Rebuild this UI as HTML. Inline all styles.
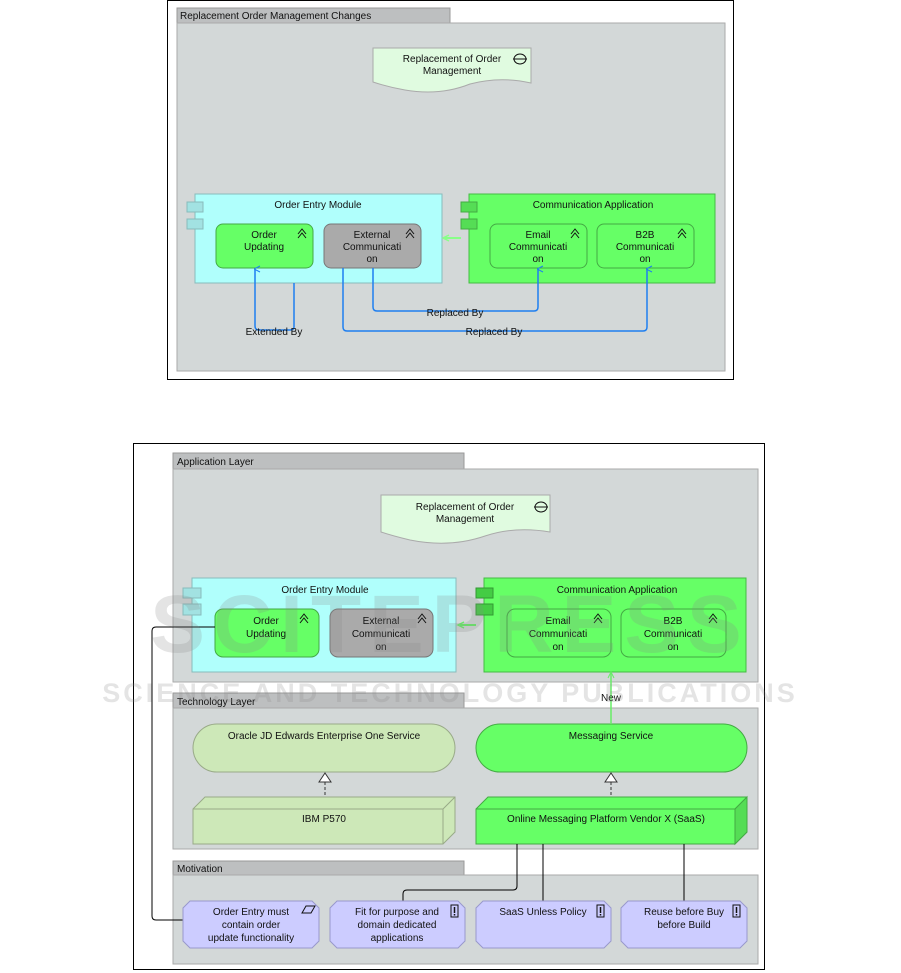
<!DOCTYPE html>
<html><head><meta charset="utf-8"><style>
body{margin:0;background:#fff;}
svg{display:block;font-family:"Liberation Sans","DejaVu Sans",sans-serif;}
text{font-size:10px;fill:#111;}
</style></head><body>
<svg width="901" height="973" viewBox="0 0 901 973" xmlns="http://www.w3.org/2000/svg">
<defs>
<marker id="ab" markerWidth="8" markerHeight="8" refX="4" refY="1" orient="auto" markerUnits="userSpaceOnUse"><path d="M1,6 L4,0 L7,6" fill="none" stroke="#1e7ff0" stroke-width="1"/></marker>
<g id="fn"><path d="M0,8 L4,3 L8,8 M0,12 L4,7 L8,12" fill="none" stroke="#111" stroke-width="1"/></g>
<g id="pr"><rect x="0" y="0" width="7" height="12" fill="none" stroke="#111"/><line x1="3.5" y1="2" x2="3.5" y2="8" stroke="#111" stroke-width="1.5"/><line x1="3.5" y1="9" x2="3.5" y2="10.5" stroke="#111" stroke-width="1.5"/></g>
</defs>

<!-- TOP DIAGRAM -->
<rect x="167.5" y="0.5" width="566" height="379" fill="#fff" stroke="#000"/>
<rect x="177" y="8" width="273" height="15" fill="#bdbfc0" stroke="#999"/>
<text x="180" y="19">Replacement Order Management Changes</text>
<rect x="177" y="23" width="548" height="348" fill="#d3d8d8" stroke="#aaa"/>
<path d="M373,48 H531 V83 Q500,76 470,84 Q440,96 405,90 Q388,87 373,82 Z" fill="#e0fbe0" stroke="#aaa"/>
<text x="452" y="62" text-anchor="middle">Replacement of Order</text>
<text x="452" y="74" text-anchor="middle">Management</text>
<ellipse cx="520" cy="59" rx="6" ry="5" fill="none" stroke="#111"/><line x1="513" y1="59" x2="527" y2="59" stroke="#111"/>

<rect x="195" y="194" width="247" height="89" fill="#b0fffc" stroke="#88bbbb"/>
<rect x="187" y="202" width="16" height="10" fill="#a2e2e2" stroke="#88bbbb"/>
<rect x="187" y="219" width="16" height="10" fill="#a2e2e2" stroke="#88bbbb"/>
<text x="318" y="208" text-anchor="middle">Order Entry Module</text>
<rect x="469" y="194" width="246" height="89" fill="#66ff66" stroke="#44bb44"/>
<rect x="461" y="202" width="16" height="10" fill="#55dd55" stroke="#44aa44"/>
<rect x="461" y="219" width="16" height="10" fill="#55dd55" stroke="#44aa44"/>
<text x="593" y="208" text-anchor="middle">Communication Application</text>
<line x1="461" y1="238" x2="445" y2="238" stroke="#88ff88" stroke-width="2"/>
<path d="M449,235 L443,238 L449,241" fill="none" stroke="#88ff88" stroke-width="1.5"/>

<rect x="216" y="224" width="97" height="44" rx="7" fill="#66ff66" stroke="#44aa44"/>
<text x="264" y="238" text-anchor="middle">Order</text><text x="264" y="250" text-anchor="middle">Updating</text>
<use href="#fn" x="298" y="226"/>
<rect x="324" y="224" width="97" height="44" rx="7" fill="#aaaaaa" stroke="#777"/>
<text x="372" y="238" text-anchor="middle">External</text><text x="372" y="250" text-anchor="middle">Communicati</text><text x="372" y="262" text-anchor="middle">on</text>
<use href="#fn" x="406" y="226"/>
<rect x="490" y="224" width="97" height="44" rx="7" fill="#66ff66" stroke="#44aa44"/>
<text x="538" y="238" text-anchor="middle">Email</text><text x="538" y="250" text-anchor="middle">Communicati</text><text x="538" y="262" text-anchor="middle">on</text>
<use href="#fn" x="571" y="226"/>
<rect x="597" y="224" width="97" height="44" rx="7" fill="#66ff66" stroke="#44aa44"/>
<text x="645" y="238" text-anchor="middle">B2B</text><text x="645" y="250" text-anchor="middle">Communicati</text><text x="645" y="262" text-anchor="middle">on</text>
<use href="#fn" x="678" y="226"/>

<g fill="none" stroke="#1e7ff0" stroke-width="1.5">
<path d="M294,283 V327 Q294,330 290,330 H259 Q255,330 255,326 V269" marker-end="url(#ab)"/>
<path d="M373,268 V307 Q373,311 377,311 H534 Q538,311 538,307 V269" marker-end="url(#ab)"/>
<path d="M343,268 V327 Q343,331 347,331 H643 Q647,331 647,327 V269" marker-end="url(#ab)"/>
</g>
<text x="274" y="335" text-anchor="middle">Extended By</text>
<text x="455" y="316" text-anchor="middle">Replaced By</text>
<text x="494" y="335" text-anchor="middle">Replaced By</text>

<!-- BOTTOM DIAGRAM -->
<rect x="133.5" y="443.5" width="631" height="526" fill="#fff" stroke="#000"/>
<rect x="173" y="453" width="291" height="16" fill="#bdbfc0" stroke="#999"/>
<text x="177" y="465">Application Layer</text>
<rect x="173" y="469" width="585" height="213" fill="#d3d8d8" stroke="#aaa"/>
<path d="M381,495 H550 V532 Q515,526 485,536 Q450,548 410,540 Q393,536 381,532 Z" fill="#e0fbe0" stroke="#aaa"/>
<text x="465" y="510" text-anchor="middle">Replacement of Order</text>
<text x="465" y="522" text-anchor="middle">Management</text>
<ellipse cx="541" cy="507" rx="6" ry="5" fill="none" stroke="#111"/><line x1="534" y1="507" x2="548" y2="507" stroke="#111"/>

<rect x="192" y="578" width="264" height="94" fill="#b0fffc" stroke="#88bbbb"/>
<rect x="183" y="588" width="18" height="10" fill="#a2e2e2" stroke="#88bbbb"/>
<rect x="183" y="604" width="18" height="11" fill="#a2e2e2" stroke="#88bbbb"/>
<text x="325" y="593" text-anchor="middle">Order Entry Module</text>
<rect x="484" y="578" width="262" height="94" fill="#66ff66" stroke="#44bb44"/>
<rect x="476" y="588" width="17" height="10" fill="#44cc44" stroke="#339933"/>
<rect x="476" y="604" width="17" height="11" fill="#44cc44" stroke="#339933"/>
<text x="617" y="593" text-anchor="middle">Communication Application</text>
<line x1="476" y1="625" x2="460" y2="625" stroke="#66ee66" stroke-width="2"/>
<path d="M464,622 L458,625 L464,628" fill="none" stroke="#66ee66" stroke-width="1.5"/>

<rect x="215" y="609" width="104" height="48" rx="8" fill="#66ff66" stroke="#44aa44"/>
<text x="266" y="624" text-anchor="middle">Order</text><text x="266" y="637" text-anchor="middle">Updating</text>
<use href="#fn" x="300" y="611"/>
<rect x="330" y="609" width="103" height="48" rx="8" fill="#aaaaaa" stroke="#777"/>
<text x="381" y="624" text-anchor="middle">External</text><text x="381" y="637" text-anchor="middle">Communicati</text><text x="381" y="650" text-anchor="middle">on</text>
<use href="#fn" x="418" y="611"/>
<rect x="507" y="609" width="104" height="48" rx="8" fill="#66ff66" stroke="#44aa44"/>
<text x="558" y="624" text-anchor="middle">Email</text><text x="558" y="637" text-anchor="middle">Communicati</text><text x="558" y="650" text-anchor="middle">on</text>
<use href="#fn" x="594" y="611"/>
<rect x="621" y="609" width="105" height="48" rx="8" fill="#66ff66" stroke="#44aa44"/>
<text x="673" y="624" text-anchor="middle">B2B</text><text x="673" y="637" text-anchor="middle">Communicati</text><text x="673" y="650" text-anchor="middle">on</text>
<use href="#fn" x="709" y="611"/>

<rect x="173" y="693" width="291" height="15" fill="#bdbfc0" stroke="#999"/>
<text x="177" y="705">Technology Layer</text>
<rect x="173" y="708" width="585" height="141" fill="#d3d8d8" stroke="#aaa"/>
<rect x="193" y="724" width="262" height="48" rx="24" fill="#cde8b8" stroke="#99aa88"/>
<text x="324" y="739" text-anchor="middle">Oracle JD Edwards Enterprise One Service</text>
<rect x="476" y="724" width="271" height="48" rx="24" fill="#66ff66" stroke="#44aa44"/>
<text x="611" y="739" text-anchor="middle">Messaging Service</text>

<line x1="611" y1="672" x2="611" y2="724" stroke="#66ee66" stroke-width="1.5"/>
<path d="M608,678 L611,672 L614,678" fill="none" stroke="#66ee66"/>
<text x="611" y="701" text-anchor="middle">New</text>

<line x1="325" y1="782" x2="325" y2="797" stroke="#333" stroke-dasharray="3,2"/>
<path d="M319,782 L325,773 L331,782 Z" fill="#fff" stroke="#333"/>
<line x1="611" y1="782" x2="611" y2="797" stroke="#333" stroke-dasharray="3,2"/>
<path d="M605,782 L611,773 L617,782 Z" fill="#fff" stroke="#333"/>

<path d="M193,809 L205,797 H455 V832 L443,844 H193 Z" fill="#cde8b8" stroke="#99aa88"/>
<path d="M193,809 H443 V844 M443,809 L455,797" fill="none" stroke="#99aa88"/>
<text x="324" y="822" text-anchor="middle">IBM P570</text>
<path d="M476,809 L488,797 H747 V832 L735,844 H476 Z" fill="#66ff66" stroke="#44aa44"/>
<path d="M476,809 H735 V844 M735,809 L747,797" fill="none" stroke="#44aa44"/>
<path d="M735,809 L747,797 V832 L735,844 Z" fill="#55dd55" stroke="#44aa44"/>
<text x="606" y="822" text-anchor="middle">Online Messaging Platform Vendor X (SaaS)</text>

<rect x="173" y="861" width="291" height="14" fill="#bdbfc0" stroke="#999"/>
<text x="177" y="872">Motivation</text>
<rect x="173" y="875" width="585" height="89" fill="#d3d8d8" stroke="#aaa"/>

<g fill="none" stroke="#000" stroke-width="1">
<path d="M517,844 V886 Q517,890 513,890 H407 Q403,890 403,894 V901"/>
<path d="M543,844 V901"/>
<path d="M684,844 V901"/>
<path d="M215,627 H156 Q152,627 152,631 V916 Q152,920 156,920 H183"/>
</g>

<g fill="#ccccff" stroke="#9999cc">
<path d="M190,901 H312 L319,908 V941 L312,948 H190 L183,941 V908 Z"/>
<path d="M337,901 H458 L465,908 V941 L458,948 H337 L330,941 V908 Z"/>
<path d="M483,901 H604 L611,908 V941 L604,948 H483 L476,941 V908 Z"/>
<path d="M628,901 H740 L747,908 V941 L740,948 H628 L621,941 V908 Z"/>
</g>
<text x="251" y="915" text-anchor="middle">Order Entry must</text>
<text x="251" y="928" text-anchor="middle">contain order</text>
<text x="251" y="941" text-anchor="middle">update functionality</text>
<path d="M302,913 L306,906 H315 L311,913 Z" fill="none" stroke="#111"/>
<text x="397" y="915" text-anchor="middle">Fit for purpose and</text>
<text x="397" y="928" text-anchor="middle">domain dedicated</text>
<text x="397" y="941" text-anchor="middle">applications</text>
<use href="#pr" x="451" y="905"/>
<text x="543" y="915" text-anchor="middle">SaaS Unless Policy</text>
<use href="#pr" x="597" y="905"/>
<text x="684" y="915" text-anchor="middle">Reuse before Buy</text>
<text x="684" y="928" text-anchor="middle">before Build</text>
<use href="#pr" x="733" y="905"/>

<!-- watermark -->
<g opacity="0.22" fill="#888">
<text x="450" y="652" text-anchor="middle" style="font-size:82px;font-weight:bold;letter-spacing:8px;fill:#888">SCITEPRESS</text>
<text x="450" y="702" text-anchor="middle" style="font-size:27px;font-weight:bold;letter-spacing:3px;fill:#888">SCIENCE AND TECHNOLOGY PUBLICATIONS</text>
</g>
</svg>
</body></html>
